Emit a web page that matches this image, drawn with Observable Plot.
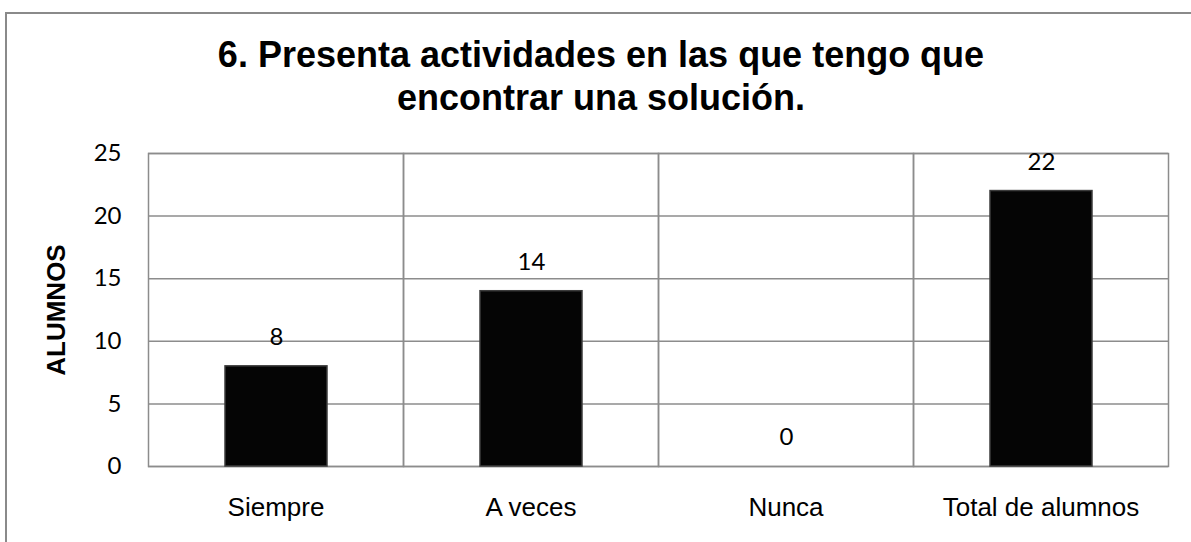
<!DOCTYPE html>
<html>
<head>
<meta charset="utf-8">
<script src="https://cdn.jsdelivr.net/npm/d3@7"></script>
<script src="https://cdn.jsdelivr.net/npm/@observablehq/plot@0.6"></script>
<style>
  html, body { margin: 0; padding: 0; background: #fff; }
  #wrap { position: relative; width: 1191px; height: 542px; overflow: hidden; }
  #border { position: absolute; left: 5px; top: 12px; width: 1250px; height: 600px;
            border: 2px solid #8a8a8a; box-sizing: border-box; }
  #title { position: absolute; left: 0; top: 33px; width: 1202px; text-align: center;
           font: bold 36px "Liberation Sans", Arial, sans-serif; line-height: 43px; color: #000; }
  #chart { position: absolute; left: 0; top: 0; }
</style>
</head>
<body>
<div id="wrap">
  <div id="border"></div>
  <div id="title">6. Presenta actividades en las que tengo que<br>encontrar una solución.</div>
  <div id="chart"></div>
</div>
<script>
const categories = ["Siempre", "A veces", "Nunca", "Total de alumnos"];
const values = [8, 14, 0, 22];
const yTicks = [0, 5, 10, 15, 20, 25];
const yDomain = [0, 25];
const yLabel = "ALUMNOS";

const data = categories.map((c, i) => ({cat: c, value: values[i]}));
const handFont = "Comic Sans MS, Lato, sans-serif";
const arial = "Liberation Sans, Arial, sans-serif";

const chart = Plot.plot({
  width: 1191,
  height: 542,
  marginTop: 153,
  marginBottom: 76,
  marginLeft: 147,
  marginRight: 22,
  style: {background: "transparent", color: "#000", fontFamily: arial},
  fx: {domain: categories, padding: 0, label: null},
  x: {domain: [""], paddingInner: 0.6, paddingOuter: 0.3, axis: null},
  y: {domain: yDomain},
  marks: [
    Plot.ruleY(yTicks, {stroke: "#8c8c8c", strokeWidth: 1.5}),
    Plot.frame({stroke: "#8c8c8c", strokeWidth: 1.5}),
    Plot.barY(data, {fx: "cat", x: () => "", y: "value", fill: "#050505", stroke: "#3c3c3c", strokeWidth: 1.5}),
    Plot.text(data, {fx: "cat", x: () => "", y: "value", text: d => String(d.value), dy: -29,
      fontFamily: handFont, fontSize: 24, fill: "#000"}),
    Plot.axisY({ticks: yTicks, tickSize: 0, tickPadding: 27, fontSize: 24, fontFamily: handFont, label: null}),
    Plot.axisFx({anchor: "bottom", tickSize: 0, tickPadding: 31, fontSize: 26, fontFamily: arial, label: null}),
    Plot.text([{cat: categories[0], label: yLabel, mid: (yDomain[0] + yDomain[1]) / 2}],
      {fx: "cat", y: "mid", text: "label", frameAnchor: "left", textAnchor: "middle", lineAnchor: "middle",
      rotate: -90, dx: -92, fontSize: 26, fontWeight: "bold", fontFamily: arial, fill: "#000"})
  ]
});
document.getElementById("chart").appendChild(chart);
</script>
</body>
</html>
